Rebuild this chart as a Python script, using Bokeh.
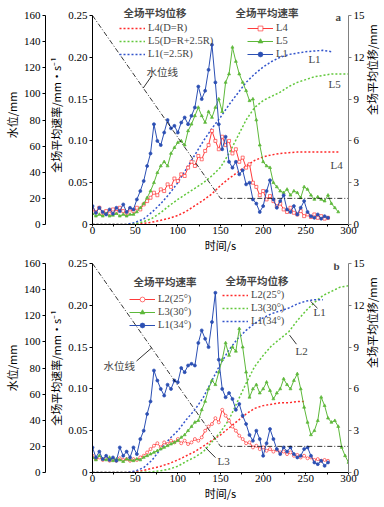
import math
from bokeh.plotting import figure
from bokeh.models import (Range1d, LinearAxis, FixedTicker, Legend, LegendItem, Label,
                          CustomJSTickFormatter, Arrow)
from bokeh.layouts import column
from bokeh.embed import file_html
from bokeh.resources import INLINE

# ---------------- data ----------------
x_ticks = [0, 50, 100, 150, 200, 250, 300]
x_minor = [25, 75, 125, 175, 225, 275]
vel_ticks = [0, 0.05, 0.10, 0.15, 0.20, 0.25]
water_ticks = [0, 20, 40, 60, 80, 100, 120, 140, 160]
disp_ticks = [0, 3, 6, 9, 12, 15]

water_time = [0, 150, 300]
water_level = [160, 20, 20]

t_276 = list(range(0, 277, 4))
t_288 = list(range(0, 289, 4))
t_300 = list(range(0, 301, 4))
disp_time = list(range(0, 301, 10))

# panel a : average velocity (mm/s)
vel_a_L4 = [0.018, 0.015, 0.020, 0.014, 0.016, 0.013, 0.018, 0.015, 0.020, 0.016,
            0.014, 0.018, 0.016, 0.020, 0.018, 0.024, 0.028, 0.032, 0.038, 0.035,
            0.042, 0.040, 0.048, 0.045, 0.055, 0.052, 0.060, 0.058, 0.068, 0.075,
            0.070, 0.082, 0.078, 0.088, 0.095, 0.112, 0.100, 0.090, 0.105, 0.095,
            0.100, 0.085, 0.090, 0.075, 0.080, 0.068, 0.072, 0.050, 0.045, 0.035,
            0.040, 0.030, 0.034, 0.028, 0.022, 0.025, 0.018, 0.015, 0.020, 0.014,
            0.012, 0.016, 0.010, 0.012, 0.009, 0.012, 0.008, 0.010, 0.007, 0.008]
vel_a_L5 = [0.013, 0.010, 0.012, 0.010, 0.013, 0.010, 0.011, 0.013, 0.010, 0.012,
            0.010, 0.012, 0.012, 0.015, 0.020, 0.025, 0.032, 0.040, 0.050, 0.062,
            0.070, 0.075, 0.070, 0.085, 0.092, 0.098, 0.100, 0.095, 0.112, 0.120,
            0.130, 0.140, 0.130, 0.122, 0.135, 0.128, 0.140, 0.150, 0.135, 0.170,
            0.180, 0.212, 0.195, 0.180, 0.170, 0.160, 0.148, 0.150, 0.125, 0.095,
            0.075, 0.070, 0.068, 0.050, 0.045, 0.040, 0.038, 0.042, 0.035, 0.040,
            0.038, 0.032, 0.045, 0.042, 0.035, 0.030, 0.033, 0.030, 0.028, 0.035,
            0.025, 0.020, 0.015]
vel_a_L1 = [0.022, 0.014, 0.020, 0.015, 0.012, 0.018, 0.013, 0.020, 0.016, 0.024,
            0.015, 0.020, 0.018, 0.030, 0.040, 0.052, 0.070, 0.085, 0.120, 0.100,
            0.095, 0.110, 0.125, 0.115, 0.118, 0.110, 0.122, 0.128, 0.120, 0.130,
            0.140, 0.165, 0.150, 0.160, 0.185, 0.215, 0.170, 0.120, 0.090, 0.105,
            0.075, 0.068, 0.075, 0.060, 0.065, 0.048, 0.050, 0.030, 0.025, 0.015,
            0.022, 0.040, 0.053, 0.030, 0.020, 0.028, 0.035, 0.018, 0.015, 0.022,
            0.012, 0.020, 0.028, 0.015, 0.010, 0.008, 0.012, 0.007, 0.010, 0.008]

# panel a : average displacement (mm), every 10 s
disp_a_L4 = [0, 0, 0, 0, 0, 0.02, 0.08, 0.17, 0.30, 0.45, 0.65, 0.95, 1.35, 1.75, 2.2,
             2.8, 3.3, 3.75, 4.2, 4.6, 4.85, 5.0, 5.1, 5.15, 5.2, 5.2, 5.2, 5.2, 5.2, 5.2]
disp_a_L5 = [0, 0, 0, 0, 0, 0.05, 0.2, 0.45, 0.85, 1.35, 1.8, 2.2, 2.6, 3.0, 3.5, 4.1,
             5.1, 6.3, 7.5, 8.4, 8.9, 9.2, 9.5, 9.9, 10.2, 10.4, 10.6, 10.7, 10.8, 10.8, 10.8]
disp_a_L1 = [0, 0, 0, 0, 0, 0.15, 0.4, 0.9, 1.5, 2.2, 3.0, 4.0, 5.0, 6.0, 6.9, 7.7,
             8.6, 9.4, 10.2, 10.8, 11.3, 11.7, 12.0, 12.2, 12.3, 12.4, 12.45, 12.5, 12.4]

# panel b : average velocity (mm/s)
vel_b_L2 = [0.020, 0.016, 0.018, 0.015, 0.017, 0.014, 0.016, 0.014, 0.017, 0.015,
            0.016, 0.014, 0.016, 0.015, 0.018, 0.020, 0.024, 0.028, 0.032, 0.035,
            0.030, 0.036, 0.034, 0.038, 0.036, 0.040, 0.035, 0.038, 0.034, 0.036,
            0.040, 0.038, 0.042, 0.050, 0.055, 0.058, 0.065, 0.060, 0.075, 0.068,
            0.062, 0.055, 0.050, 0.044, 0.040, 0.035, 0.036, 0.030, 0.032, 0.028,
            0.030, 0.026, 0.028, 0.025, 0.027, 0.024, 0.025, 0.022, 0.024, 0.020,
            0.021, 0.018, 0.020, 0.017, 0.018, 0.015, 0.016, 0.014, 0.015, 0.014]
vel_b_L3 = [0.018, 0.015, 0.020, 0.016, 0.015, 0.018, 0.014, 0.016, 0.015, 0.013,
            0.016, 0.015, 0.014, 0.016, 0.015, 0.018, 0.020, 0.022, 0.024, 0.026,
            0.028, 0.030, 0.032, 0.034, 0.036, 0.038, 0.042, 0.045, 0.050, 0.055,
            0.060, 0.062, 0.075, 0.085, 0.100, 0.110, 0.105, 0.120, 0.135, 0.155,
            0.140, 0.150, 0.145, 0.172, 0.150, 0.120, 0.090, 0.100, 0.105, 0.095,
            0.100, 0.108, 0.098, 0.088, 0.095, 0.100, 0.112, 0.105, 0.100, 0.110,
            0.118, 0.100, 0.078, 0.060, 0.045, 0.050, 0.062, 0.090, 0.080, 0.065,
            0.060, 0.062, 0.055, 0.030, 0.020, 0.012]
vel_b_L1 = [0.030, 0.018, 0.025, 0.016, 0.020, 0.015, 0.018, 0.014, 0.030, 0.020,
            0.025, 0.018, 0.030, 0.022, 0.040, 0.050, 0.070, 0.085, 0.122, 0.110,
            0.100, 0.092, 0.105, 0.100, 0.110, 0.108, 0.125, 0.120, 0.128, 0.130,
            0.128, 0.155, 0.170, 0.160, 0.150, 0.180, 0.215, 0.135, 0.100, 0.090,
            0.095, 0.088, 0.075, 0.082, 0.068, 0.058, 0.045, 0.038, 0.050, 0.040,
            0.020, 0.035, 0.052, 0.040, 0.028, 0.022, 0.030, 0.025, 0.030, 0.022,
            0.018, 0.020, 0.028, 0.030, 0.020, 0.012, 0.010, 0.014, 0.008, 0.012]

# panel b : average displacement (mm), every 10 s
disp_b_L2 = [0, 0, 0, 0, 0, 0.05, 0.15, 0.3, 0.45, 0.65, 0.9, 1.2, 1.5, 1.9, 2.3, 2.7,
             3.2, 3.7, 4.2, 4.6, 4.8, 4.9, 5.0, 5.0, 5.1, 5.1]
disp_b_L3 = [0, 0, 0, 0, 0, 0, 0.02, 0.05, 0.12, 0.25, 0.45, 0.8, 1.1, 1.5, 2.2, 2.9,
             3.8, 5.1, 6.4, 7.6, 8.4, 9.1, 9.6, 10.1, 10.9, 11.6, 12.2, 12.7, 13.0, 13.3, 13.4]
disp_b_L1 = [0, 0, 0, 0, 0, 0.1, 0.35, 0.9, 1.7, 2.4, 3.0, 3.8, 4.5, 5.4, 6.6, 7.8,
             8.8, 9.6, 10.2, 10.7, 11.1, 11.4, 11.6, 11.8, 12.1, 12.3, 12.4, 12.4]

# ---------------- style ----------------
SERIF = "Liberation Serif"
CJK = "Noto Sans CJK SC"
RED, GREEN, BLUE = "#ff3b3b", "#5db83a", "#2b4fb3"
RED_D, GREEN_D, BLUE_D = "#ff2a2a", "#62c83c", "#3355cc"
VEL_MAX, WATER_MAX, DISP_MAX = 0.25, 160, 15
FRAME_H = 209


def style_axis(ax, color="black"):
    ax.axis_line_color = color
    ax.major_tick_line_color = color
    ax.minor_tick_line_color = color
    ax.major_tick_out = 3
    ax.major_tick_in = 0
    ax.minor_tick_out = 2
    ax.minor_tick_in = 0
    ax.major_label_text_font = SERIF
    ax.major_label_text_font_size = "11px"
    ax.major_label_text_color = "black"
    ax.major_label_standoff = 2
    ax.axis_label_text_font = CJK
    ax.axis_label_text_font_size = "11px"
    ax.axis_label_text_font_style = "normal"
    ax.axis_label_text_color = "black"
    ax.axis_label_standoff = 1


def build(tag, top, ext, vel, disp, v_labels, d_labels, v_leg_loc, d_leg_loc,
          v_title_xy, d_title_xy, tag_xy, wl_xy, wl_leader, notes, leaders):
    # ext: extra pixels of plotting room above the top tick (axes stay bounded)
    k = 1 + ext / FRAME_H
    p = figure(frame_width=256, frame_height=FRAME_H + ext,
               x_range=Range1d(0, 300), y_range=Range1d(0, VEL_MAX * k),
               x_axis_location=None, y_axis_location=None,
               output_backend="svg", toolbar_location=None,
               min_border_left=0, min_border_right=0,
               min_border_top=top, min_border_bottom=0)
    p.extra_y_ranges = {"water": Range1d(0, WATER_MAX * k), "disp": Range1d(0, DISP_MAX * k)}
    p.outline_line_color = None
    for g in p.grid:
        g.visible = False

    # axes
    va = LinearAxis(ticker=FixedTicker(ticks=vel_ticks), bounds=(0, VEL_MAX),
                    formatter=CustomJSTickFormatter(code="return tick == 0 ? '0' : tick.toFixed(2);"),
                    axis_label="全场平均速率/mm·s⁻¹")
    style_axis(va)
    p.add_layout(va, "left")
    wa = LinearAxis(y_range_name="water", ticker=FixedTicker(ticks=water_ticks),
                    bounds=(0, WATER_MAX), axis_label="水位/mm")
    style_axis(wa)
    p.add_layout(wa, "left")
    da = LinearAxis(y_range_name="disp", ticker=FixedTicker(ticks=disp_ticks),
                    bounds=(0, DISP_MAX), axis_label="全场平均位移/mm")
    style_axis(da, "#808080")
    da.axis_label_orientation = math.pi / 2
    da.axis_label_standoff = 4
    p.add_layout(da, "right")
    xa = LinearAxis(ticker=FixedTicker(ticks=x_ticks, minor_ticks=x_minor),
                    axis_label="时间/s")
    style_axis(xa)
    xa.major_tick_out = 2
    xa.major_label_standoff = 0
    xa.axis_label_standoff = 0
    p.add_layout(xa, "below")

    # displacement (dotted)
    d_items = []
    for (vals, col), lab in zip(disp, d_labels):
        r = p.line(disp_time[:len(vals)], vals, y_range_name="disp", line_color=col,
                   line_width=1.5, line_dash="2 2")
        d_items.append(LegendItem(label=lab, renderers=[r]))

    # velocity
    v_items = []
    for (tt, vals, col, marker, filled), lab in zip(vel, v_labels):
        rl = p.line(tt, vals, line_color=col, line_width=1)
        rs = p.scatter(tt, vals, marker=marker, size=3, line_color=col,
                       fill_color=col if filled else "white", line_width=0.7)
        v_items.append(LegendItem(label=lab, renderers=[rl, rs]))

    # water level line
    p.line(water_time, water_level, y_range_name="water", line_color="black",
           line_width=0.8, line_dash="5 2 1 2")

    for items, loc in ((d_items, d_leg_loc), (v_items, v_leg_loc)):
        leg = Legend(items=items, location=loc, orientation="vertical",
                     glyph_width=26, glyph_height=12, label_height=13, spacing=0,
                     padding=0, margin=0, label_standoff=3,
                     label_text_font=SERIF, label_text_font_size="10.5px",
                     background_fill_alpha=0, border_line_alpha=0)
        p.add_layout(leg)

    for txt, (x, y) in (("全场平均速率", v_title_xy), ("全场平均位移", d_title_xy)):
        p.add_layout(Label(x=x, y=y, y_range_name="disp", text=txt, text_font=CJK,
                           text_font_size="10.5px", text_font_style="bold",
                           text_baseline="middle"))
    p.add_layout(Label(x=tag_xy[0], y=tag_xy[1], y_range_name="disp", text=tag,
                       text_font=SERIF, text_font_size="11px", text_font_style="bold",
                       text_align="center", text_baseline="middle"))
    p.add_layout(Label(x=wl_xy[0], y=wl_xy[1], y_range_name="disp", text="水位线",
                       text_font=CJK, text_font_size="10.5px", text_baseline="middle"))
    allleaders = [wl_leader] + leaders
    for (x0, y0, x1, y1) in allleaders:
        p.add_layout(Arrow(x_start=x0, y_start=y0, x_end=x1, y_end=y1, end=None,
                           y_range_name="disp", line_color="black", line_width=0.8))
    for txt, (x, y) in notes:
        p.add_layout(Label(x=x, y=y, y_range_name="disp", text=txt, text_font=SERIF,
                           text_font_size="11px", text_baseline="middle"))
    return p


pa = build(
    "a", 5, 10,
    vel=[(t_276, vel_a_L4, RED, "square", False),
         (t_288, vel_a_L5, GREEN, "triangle", True),
         (t_276, vel_a_L1, BLUE, "circle", True)],
    disp=[(disp_a_L4, RED_D), (disp_a_L5, GREEN_D), (disp_a_L1, BLUE_D)],
    v_labels=["L4", "L5", "L1"],
    d_labels=["L4(D=R)", "L5(D=R+2.5R)", "L1(=2.5R)"],
    v_leg_loc=(155, 164), d_leg_loc=(27, 164),
    v_title_xy=(167.6, 15.22), d_title_xy=(36.3, 15.22),
    tag_xy=(288, 14.9),
    wl_xy=(63.3, 11.0), wl_leader=(59.4, 9.79, 69.1, 10.64),
    notes=[("L1", (253, 11.9)), ("L5", (276.6, 10.1)), ("L4", (279, 4.3))],
    leaders=[],
)

pb = build(
    "b", 8, 0,
    vel=[(t_276, vel_b_L2, RED, "circle", False),
         (t_300, vel_b_L3, GREEN, "triangle", True),
         (t_276, vel_b_L1, BLUE, "circle", True)],
    disp=[(disp_b_L2, RED_D), (disp_b_L3, GREEN_D), (disp_b_L1, BLUE_D)],
    v_labels=["L2(25°)", "L3(30°)", "L1(34°)"],
    d_labels=["L2(25°)", "L3(30°)", "L1(34°)"],
    v_leg_loc=(37, 141), d_leg_loc=(130, 145),
    v_title_xy=(48, 13.7), d_title_xy=(156, 13.8),
    tag_xy=(286, 14.8),
    wl_xy=(12.9, 7.7), wl_leader=(51.6, 8.0, 69.1, 8.93),
    notes=[("L1", (259, 11.5)), ("L2", (238, 8.7)), ("L3", (146.5, 0.86))],
    leaders=[(255.5, 12.29, 263.7, 11.79), (230.9, 9.86, 239, 9.21),
             (132.4, 1.79, 144.1, 1.07)],
)

layout = column(pa, pb, spacing=0)
open("out.html", "w").write(file_html(layout, INLINE))
